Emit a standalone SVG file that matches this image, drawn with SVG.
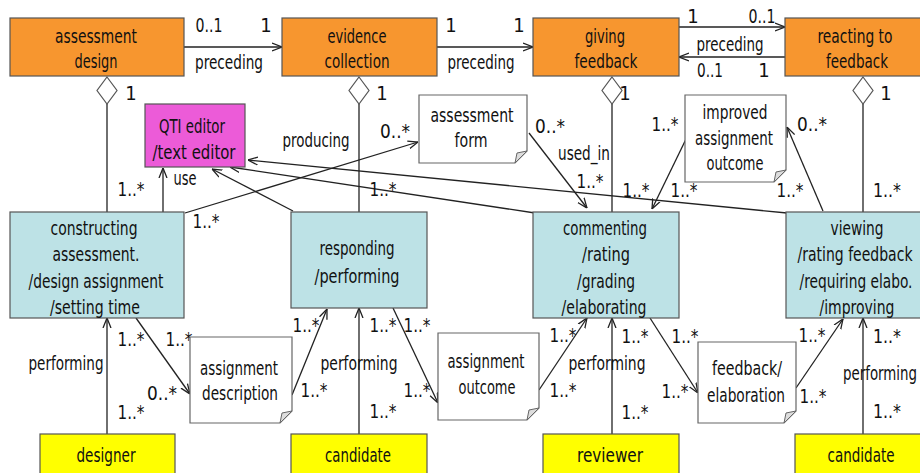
<svg xmlns="http://www.w3.org/2000/svg" width="920" height="473" viewBox="0 0 920 473">
<style>
text{font-family:"Liberation Sans Narrow","DejaVu Sans Condensed","Liberation Sans",sans-serif;font-size:20px;fill:#111;text-anchor:middle}
.or{fill:#F7962F;stroke:#555;stroke-width:1.2}
.bl{fill:#BDE2E6;stroke:#555;stroke-width:1.2}
.pk{fill:#EC5BD8;stroke:#555;stroke-width:1.2}
.ye{fill:#FFFF00;stroke:#555;stroke-width:1.2}
.nt{fill:#fff;stroke:#666;stroke-width:1.2}
.fd{fill:#ddd;stroke:#666;stroke-width:1}
.ln{stroke:#222;stroke-width:1.3;fill:none}
.ar{stroke:#222;stroke-width:1.3;fill:none;marker-end:url(#arr)}
.dm{fill:#fff;stroke:#555;stroke-width:1.2}
</style>
<defs>
<marker id="arr" viewBox="0 0 10 10" refX="10" refY="5" markerWidth="10" markerHeight="10" markerUnits="userSpaceOnUse" orient="auto">
<path d="M0,1 L10,5 L0,9" fill="none" stroke="#222" stroke-width="1.3"/>
</marker>
</defs>
<rect width="920" height="473" fill="#fff"/>

<g id="connectors">
<path class="ar" d="M184,47 H282"/>
<path class="ar" d="M437,47 H533"/>
<path class="ar" d="M679,27 H785"/>
<path class="ar" d="M785,57 H679"/>
<path class="ln" d="M107,104 V212"/>
<path class="ln" d="M359,104 V212"/>
<path class="ln" d="M612,104 V212"/>
<path class="ln" d="M863,104 V212"/>
<polygon class="dm" points="107,77 117,90.5 107,104 97,90.5"/>
<polygon class="dm" points="359,77 369,90.5 359,104 349,90.5"/>
<polygon class="dm" points="612,77 622,90.5 612,104 602,90.5"/>
<polygon class="dm" points="863,77 873,90.5 863,104 853,90.5"/>
<path class="ar" d="M107,434 V318"/>
<path class="ar" d="M359,434 V308"/>
<path class="ar" d="M612,434 V318"/>
<path class="ar" d="M863,434 V318"/>
<path class="ar" d="M136,318 L190,394"/>
<path class="ar" d="M292,395 L327,309"/>
<path class="ar" d="M393,308 L438,403"/>
<path class="ar" d="M539,390 L587,318"/>
<path class="ar" d="M650,318 L698,393"/>
<path class="ar" d="M796,388 L843,319"/>
<path class="ar" d="M163,212 V168"/>
<path class="ar" d="M185,213 L418,142"/>
<path class="ar" d="M293,211 L212,169"/>
<path class="ar" d="M535,213 L230,167"/>
<path class="ar" d="M787,213 L248,160"/>
<path class="ar" d="M529,133 L587,208"/>
<path class="ar" d="M688,135 L652,209"/>
<path class="ar" d="M823,211 L787,127"/>
</g>

<g id="labels">
<text x="209" y="32" textLength="27" lengthAdjust="spacingAndGlyphs">0..1</text>
<text x="266" y="32">1</text>
<text x="229" y="69" textLength="68" lengthAdjust="spacingAndGlyphs">preceding</text>
<text x="451" y="32">1</text>
<text x="519" y="32">1</text>
<text x="481" y="69" textLength="67" lengthAdjust="spacingAndGlyphs">preceding</text>
<text x="693" y="23">1</text>
<text x="762" y="23" textLength="27" lengthAdjust="spacingAndGlyphs">0..1</text>
<text x="730" y="51" textLength="67" lengthAdjust="spacingAndGlyphs">preceding</text>
<text x="710" y="77" textLength="26" lengthAdjust="spacingAndGlyphs">0..1</text>
<text x="764" y="77">1</text>
<text x="131" y="100">1</text>
<text x="382" y="100">1</text>
<text x="625" y="100">1</text>
<text x="886" y="100">1</text>

<text x="131" y="196" textLength="27" lengthAdjust="spacingAndGlyphs">1..*</text>
<text x="185" y="185" textLength="23" lengthAdjust="spacingAndGlyphs">use</text>
<text x="316" y="147" textLength="67" lengthAdjust="spacingAndGlyphs">producing</text>
<text x="395" y="138" textLength="30" lengthAdjust="spacingAndGlyphs">0..*</text>
<text x="383" y="196" textLength="27" lengthAdjust="spacingAndGlyphs">1..*</text>
<text x="206" y="228" textLength="27" lengthAdjust="spacingAndGlyphs">1..*</text>
<text x="550" y="133" textLength="30" lengthAdjust="spacingAndGlyphs">0..*</text>
<text x="584" y="160" textLength="52" lengthAdjust="spacingAndGlyphs">used_in</text>
<text x="590" y="188" textLength="27" lengthAdjust="spacingAndGlyphs">1..*</text>
<text x="665" y="131" textLength="27" lengthAdjust="spacingAndGlyphs">1..*</text>
<text x="812" y="131" textLength="30" lengthAdjust="spacingAndGlyphs">0..*</text>
<text x="636" y="197" textLength="27" lengthAdjust="spacingAndGlyphs">1..*</text>
<text x="684" y="197" textLength="27" lengthAdjust="spacingAndGlyphs">1..*</text>
<text x="790" y="197" textLength="27" lengthAdjust="spacingAndGlyphs">1..*</text>
<text x="887" y="197" textLength="28" lengthAdjust="spacingAndGlyphs">1..*</text>

<text x="131" y="346" textLength="27" lengthAdjust="spacingAndGlyphs">1..*</text>
<text x="179" y="346" textLength="27" lengthAdjust="spacingAndGlyphs">1..*</text>
<text x="66" y="370" textLength="75" lengthAdjust="spacingAndGlyphs">performing</text>
<text x="162" y="400" textLength="30" lengthAdjust="spacingAndGlyphs">0..*</text>
<text x="131" y="419" textLength="27" lengthAdjust="spacingAndGlyphs">1..*</text>
<text x="306" y="332" textLength="27" lengthAdjust="spacingAndGlyphs">1..*</text>
<text x="314" y="397" textLength="27" lengthAdjust="spacingAndGlyphs">1..*</text>
<text x="383" y="332" textLength="27" lengthAdjust="spacingAndGlyphs">1..*</text>
<text x="417" y="332" textLength="27" lengthAdjust="spacingAndGlyphs">1..*</text>
<text x="359" y="370" textLength="77" lengthAdjust="spacingAndGlyphs">performing</text>
<text x="417" y="397" textLength="27" lengthAdjust="spacingAndGlyphs">1..*</text>
<text x="383" y="418" textLength="27" lengthAdjust="spacingAndGlyphs">1..*</text>
<text x="563" y="342" textLength="27" lengthAdjust="spacingAndGlyphs">1..*</text>
<text x="607" y="370" textLength="77" lengthAdjust="spacingAndGlyphs">performing</text>
<text x="563" y="397" textLength="27" lengthAdjust="spacingAndGlyphs">1..*</text>
<text x="635" y="343" textLength="27" lengthAdjust="spacingAndGlyphs">1..*</text>
<text x="685" y="343" textLength="27" lengthAdjust="spacingAndGlyphs">1..*</text>
<text x="675" y="398" textLength="27" lengthAdjust="spacingAndGlyphs">1..*</text>
<text x="635" y="419" textLength="27" lengthAdjust="spacingAndGlyphs">1..*</text>
<text x="812" y="342" textLength="27" lengthAdjust="spacingAndGlyphs">1..*</text>
<text x="813" y="403" textLength="27" lengthAdjust="spacingAndGlyphs">1..*</text>
<text x="887" y="343" textLength="28" lengthAdjust="spacingAndGlyphs">1..*</text>
<text x="880" y="380" textLength="74" lengthAdjust="spacingAndGlyphs">performing</text>
<text x="887" y="418" textLength="28" lengthAdjust="spacingAndGlyphs">1..*</text>
</g>

<g id="assessment-design">
<rect class="or" x="10" y="18" width="174" height="58"/>
<text x="96" y="43" textLength="82" lengthAdjust="spacingAndGlyphs">assessment</text>
<text x="96" y="68" textLength="43" lengthAdjust="spacingAndGlyphs">design</text>
</g>
<g id="evidence-collection">
<rect class="or" x="282" y="18" width="155" height="58"/>
<text x="357" y="43" textLength="59" lengthAdjust="spacingAndGlyphs">evidence</text>
<text x="357" y="68" textLength="65" lengthAdjust="spacingAndGlyphs">collection</text>
</g>
<g id="giving-feedback">
<rect class="or" x="533" y="18" width="146" height="58"/>
<text x="605" y="43" textLength="40" lengthAdjust="spacingAndGlyphs">giving</text>
<text x="606" y="68" textLength="63" lengthAdjust="spacingAndGlyphs">feedback</text>
</g>
<g id="reacting-to-feedback">
<rect class="or" x="785" y="18" width="150" height="58"/>
<text x="855" y="43" textLength="75" lengthAdjust="spacingAndGlyphs">reacting to</text>
<text x="857" y="68" textLength="62" lengthAdjust="spacingAndGlyphs">feedback</text>
</g>

<g id="qti-editor">
<rect class="pk" x="145" y="104" width="100" height="63"/>
<text x="192" y="133" textLength="66" lengthAdjust="spacingAndGlyphs">QTI editor</text>
<text x="194" y="159" textLength="83" lengthAdjust="spacingAndGlyphs">/text editor</text>
</g>

<g id="assessment-form">
<path class="nt" d="M419,95 H527 V151 L515,163 H419 Z"/>
<path class="fd" d="M527,151 L517,153 L515,163 Z"/>
<text x="472" y="122" textLength="83" lengthAdjust="spacingAndGlyphs">assessment</text>
<text x="471" y="147" textLength="33" lengthAdjust="spacingAndGlyphs">form</text>
</g>
<g id="improved-assignment-outcome">
<path class="nt" d="M685,95 H786 V170 L774,182 H685 Z"/>
<path class="fd" d="M786,170 L776,172 L774,182 Z"/>
<text x="735" y="119" textLength="65" lengthAdjust="spacingAndGlyphs">improved</text>
<text x="734" y="145" textLength="78" lengthAdjust="spacingAndGlyphs">assignment</text>
<text x="735" y="170" textLength="57" lengthAdjust="spacingAndGlyphs">outcome</text>
</g>

<g id="constructing">
<rect class="bl" x="10" y="212" width="174" height="106"/>
<text x="94" y="235" textLength="87" lengthAdjust="spacingAndGlyphs">constructing</text>
<text x="96" y="261" textLength="87" lengthAdjust="spacingAndGlyphs">assessment.</text>
<text x="96" y="288" textLength="135" lengthAdjust="spacingAndGlyphs">/design assignment</text>
<text x="95" y="314" textLength="90" lengthAdjust="spacingAndGlyphs">/setting time</text>
</g>
<g id="responding">
<rect class="bl" x="291" y="212" width="136" height="96"/>
<text x="357" y="255" textLength="75" lengthAdjust="spacingAndGlyphs">responding</text>
<text x="357" y="283" textLength="85" lengthAdjust="spacingAndGlyphs">/performing</text>
</g>
<g id="commenting">
<rect class="bl" x="533" y="212" width="146" height="106"/>
<text x="605" y="235" textLength="84" lengthAdjust="spacingAndGlyphs">commenting</text>
<text x="606" y="261" textLength="48" lengthAdjust="spacingAndGlyphs">/rating</text>
<text x="606" y="288" textLength="58" lengthAdjust="spacingAndGlyphs">/grading</text>
<text x="604" y="314" textLength="85" lengthAdjust="spacingAndGlyphs">/elaborating</text>
</g>
<g id="viewing">
<rect class="bl" x="786" y="212" width="150" height="106"/>
<text x="857" y="235" textLength="53" lengthAdjust="spacingAndGlyphs">viewing</text>
<text x="855" y="261" textLength="115" lengthAdjust="spacingAndGlyphs">/rating feedback</text>
<text x="856" y="288" textLength="113" lengthAdjust="spacingAndGlyphs">/requiring elabo.</text>
<text x="857" y="314" textLength="75" lengthAdjust="spacingAndGlyphs">/improving</text>
</g>

<g id="assignment-description">
<path class="nt" d="M190,337 H292 V411 L280,423 H190 Z"/>
<path class="fd" d="M292,411 L282,413 L280,423 Z"/>
<text x="239" y="375" textLength="78" lengthAdjust="spacingAndGlyphs">assignment</text>
<text x="240" y="400" textLength="76" lengthAdjust="spacingAndGlyphs">description</text>
</g>
<g id="assignment-outcome">
<path class="nt" d="M438,333 H539 V408 L527,420 H438 Z"/>
<path class="fd" d="M539,408 L529,410 L527,420 Z"/>
<text x="486" y="368" textLength="77" lengthAdjust="spacingAndGlyphs">assignment</text>
<text x="487" y="394" textLength="57" lengthAdjust="spacingAndGlyphs">outcome</text>
</g>
<g id="feedback-elaboration">
<path class="nt" d="M698,342 H796 V411 L784,423 H698 Z"/>
<path class="fd" d="M796,411 L786,413 L784,423 Z"/>
<text x="747" y="375" textLength="70" lengthAdjust="spacingAndGlyphs">feedback/</text>
<text x="746" y="402" textLength="78" lengthAdjust="spacingAndGlyphs">elaboration</text>
</g>

<g id="designer">
<rect class="ye" x="40" y="434" width="135" height="50"/>
<text x="106" y="462" textLength="59" lengthAdjust="spacingAndGlyphs">designer</text>
</g>
<g id="candidate-1">
<rect class="ye" x="291" y="434" width="136" height="50"/>
<text x="358" y="462" textLength="66" lengthAdjust="spacingAndGlyphs">candidate</text>
</g>
<g id="reviewer">
<rect class="ye" x="543" y="434" width="136" height="50"/>
<text x="610" y="462" textLength="66" lengthAdjust="spacingAndGlyphs">reviewer</text>
</g>
<g id="candidate-2">
<rect class="ye" x="795" y="434" width="140" height="50"/>
<text x="861" y="462" textLength="67" lengthAdjust="spacingAndGlyphs">candidate</text>
</g>
</svg>
